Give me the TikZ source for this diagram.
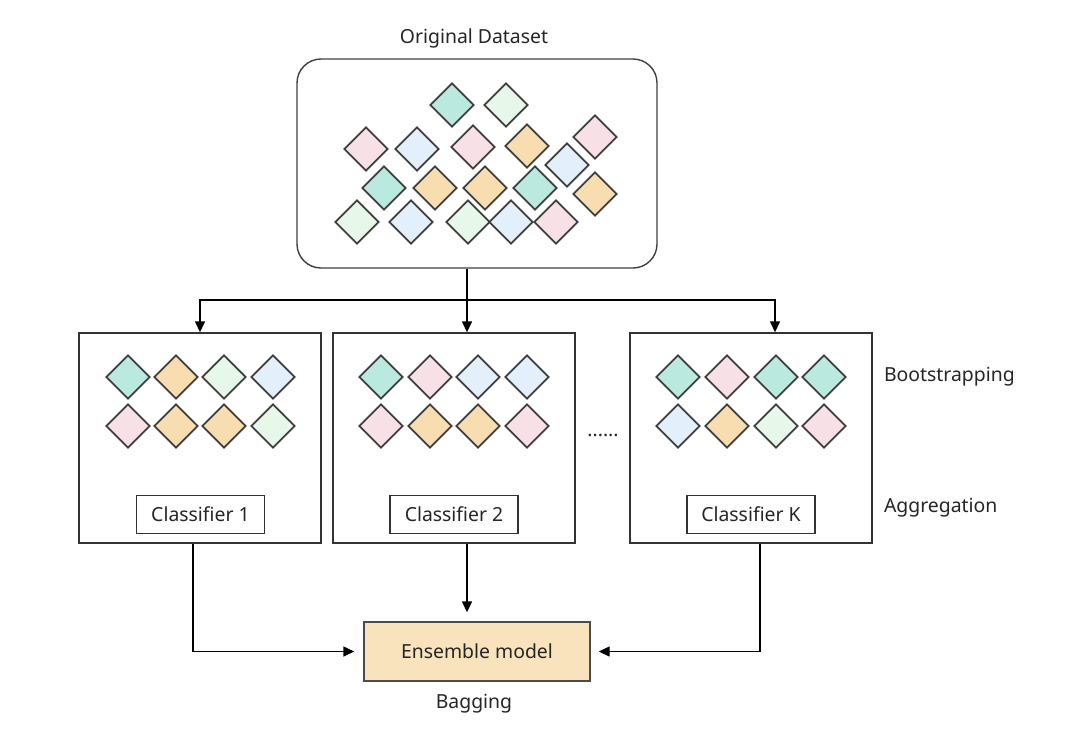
\documentclass[tikz,border=0pt]{standalone}
\usepackage{fontspec}
\setmainfont{Noto Sans}
\usetikzlibrary{arrows.meta,shapes.geometric}

\definecolor{gteal}{HTML}{B9E9DF}
\definecolor{ggreen}{HTML}{E7F8EB}
\definecolor{gblue}{HTML}{E3EFFA}
\definecolor{gpink}{HTML}{F8E1E6}
\definecolor{gorange}{HTML}{F8DDB0}
\definecolor{gline}{HTML}{3F3F3F}
\definecolor{ensfill}{HTML}{F9E3BC}

\begin{document}
\begin{tikzpicture}[x=0.5pt, y=-0.5pt, font=\fontsize{9.7}{11}\selectfont, text=black!85,
	arrows={-Triangle[length=5.5pt,width=5pt]},
	gem/.style={diamond, draw=gline, line width=0.9pt, minimum size=22pt, inner sep=0pt, fill=#1},
	frame/.style={draw=black!80, line width=0.7pt, minimum width=121pt, minimum height=105pt},
	tag/.style={draw=black!80, line width=0.7pt, minimum width=64pt, minimum height=19pt, inner sep=0pt}]
	\useasboundingbox[fill=white] (0,0) rectangle (1080,735);

	% original data
	\node (title) at (474,38) {Original Dataset};
	\node[draw=black!75, line width=0.7pt, rounded corners=12pt, minimum width=180pt, minimum height=104.5pt] (data) at (477,163.5) {};
	\foreach \x/\y/\c [count=\i] in {452/105/gteal, 506/105/ggreen,
		366/149/gpink, 417/149/gblue, 473/147/gpink, 527/146/gorange, 595/137/gpink,
		567/165/gblue,
		384/188/gteal, 435/188/gorange, 485/188/gorange, 535/188/gteal, 595/194/gorange,
		357/222/ggreen, 411/222/gblue, 468/222/ggreen, 511/222/gblue, 556/222/gpink}
		\node[gem=\c] (d\i) at (\x,\y) {};

	% classifiers
	\node[frame] (c1) at (200,438) {};
	\node[frame] (c2) at (454,438) {};
	\node[frame] (ck) at (751,438) {};
	\foreach \x/\y/\c [count=\i] in {128/377/gteal, 176/377/gorange, 224/377/ggreen, 273/377/gblue,
		128/426/gpink, 176/426/gorange, 224/426/gorange, 273/426/ggreen,
		381/377/gteal, 430/377/gpink, 478/377/gblue, 527/377/gblue,
		381/426/gpink, 430/426/gorange, 478/426/gorange, 527/426/gpink,
		678/377/gteal, 727/377/gpink, 776/377/gteal, 824/377/gteal,
		678/426/gblue, 727/426/gorange, 776/426/ggreen, 824/426/gpink}
		\node[gem=\c] (s\i) at (\x,\y) {};
	\node[tag] (t1) at (200.5,514.5) {Classifier 1};
	\node[tag] (t2) at (454,514.5) {Classifier 2};
	\node[tag] (tk) at (751,514.5) {Classifier K};
	\node (dots) at (603,435) {......};
	\node[anchor=west] (boot) at (877,377) {Bootstrapping};
	\node[anchor=west] (agg) at (877,508) {Aggregation};

	% ensemble
	\node[draw=black!70, line width=0.7pt, fill=ensfill, minimum width=113pt, minimum height=29.5pt] (ens) at (477,651.5) {Ensemble model};
	\node (bag) at (474,704) {Bagging};

	\coordinate (j) at (467,300);
	\draw[-, line width=0.7pt] (j |- data.south) -- (j);
	\draw[line width=0.7pt] (j) -| (c1.north);
	\draw[line width=0.7pt] (j) -- (j |- c2.north);
	\draw[line width=0.7pt] (j) -| ([xshift=12pt]ck.north);

	\draw[line width=0.7pt, shorten >=4.5pt] ([xshift=-3.5pt]c1.south) |- (ens.west);
	\draw[line width=0.7pt, shorten >=4.5pt] ([xshift=6.5pt]c2.south) -- ([xshift=-5pt]ens.north);
	\draw[line width=0.7pt, shorten >=4pt] ([xshift=4.5pt]ck.south) |- (ens.east);
\end{tikzpicture}
\end{document}
